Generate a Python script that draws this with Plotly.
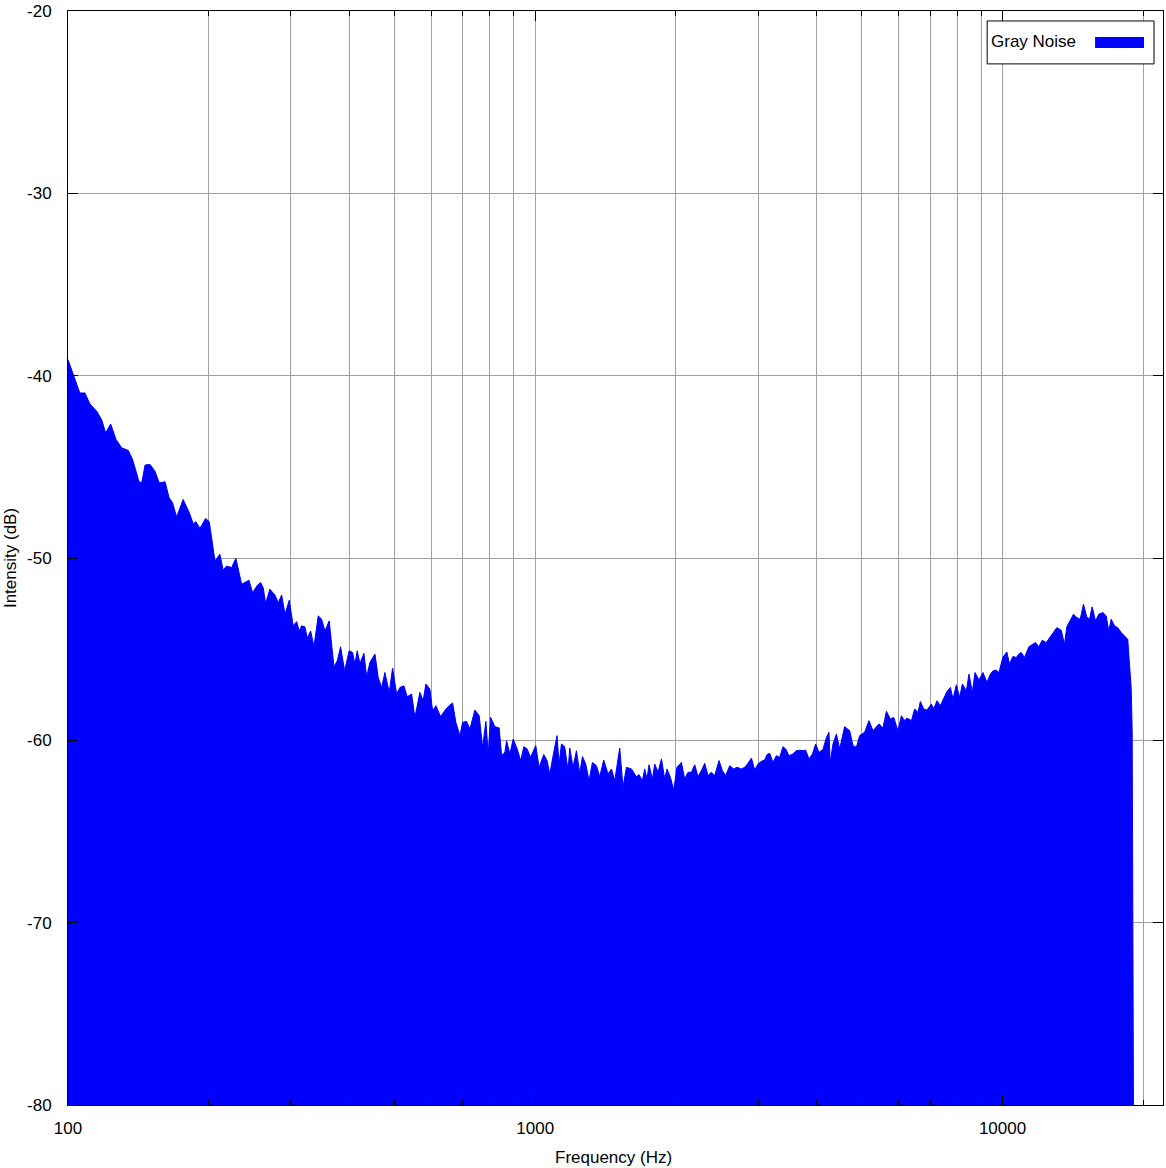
import math
import plotly.graph_objects as go

# Spectrum of gray noise
freq_hz = [
    100, 106.0, 108.7, 111.4, 115.2, 118.0, 120.4, 123.4, 126.7, 130.3,
    134.6, 137.5, 141.9, 143.8, 146.2, 149.8, 153.5, 156.8, 161.3, 164.6,
    167.4, 170.8, 176.4, 181.8, 185.4, 187.9, 191.6, 197.0, 200.6, 206.3,
    211.4, 214.8, 218.5, 223.9, 228.7, 235.3, 243.9, 248.4, 254.1, 258.4,
    261.7, 264.8, 270.4, 277.2, 281.8, 286.6, 291.3, 297.5, 303.4, 308.5,
    312.5, 316.2, 321.4, 325.2, 330.6, 336.0, 343.2, 349.0, 354.7, 362.3,
    370.8, 376.9, 383.2, 390.8, 399.7, 406.5, 411.1, 415.9, 421.4, 429.8,
    435.6, 442.7, 453.8, 461.2, 469.0, 476.7, 486.9, 495.1, 505.0, 513.2,
    523.4, 532.1, 543.7, 552.6, 566.4, 575.6, 583.3, 595.0, 603.0, 612.9,
    627.2, 643.8, 654.4, 665.4, 676.3, 689.8, 699.0, 712.9, 724.6, 742.7,
    758.6, 771.4, 784.1, 793.0, 802.4, 819.6, 837.1, 847.1, 861.0, 868.2,
    882.4, 897.0, 914.8, 930.3, 945.5, 960.5, 977.2, 1002.5, 1018.9, 1042.7,
    1059.9, 1074.0, 1095.3, 1113.3, 1124.4, 1137.7, 1156.1, 1175.3, 1185.2, 1204.6,
    1224.9, 1245.0, 1261.8, 1282.4, 1303.4, 1325.4, 1351.8, 1373.9, 1401.2, 1431.2,
    1455.6, 1479.3, 1516.1, 1541.0, 1567.0, 1606.4, 1646.1, 1667.2, 1695.5, 1714.6,
    1734.3, 1751.5, 1781.1, 1801.5, 1830.9, 1862.1, 1892.5, 1913.9, 1946.3, 1978.6,
    2010.5, 2054.6, 2088.4, 2122.6, 2158.8, 2194.0, 2229.8, 2267.8, 2304.8, 2342.4,
    2382.4, 2421.2, 2472.9, 2514.6, 2555.9, 2606.7, 2658.5, 2702.1, 2761.3, 2806.9,
    2852.7, 2901.4, 2948.6, 2996.8, 3047.9, 3097.6, 3132.6, 3174.6, 3226.7, 3281.1,
    3334.9, 3389.7, 3435.1, 3491.4, 3560.9, 3620.9, 3680.2, 3740.7, 3790.9, 3852.9,
    3917.9, 3982.3, 4047.5, 4128.1, 4197.6, 4251.9, 4277.3, 4336.7, 4409.7, 4482.0,
    4592.9, 4708.4, 4785.7, 4866.4, 4946.2, 5068.6, 5178.2, 5281.3, 5439.7, 5548.1,
    5641.5, 5753.7, 5849.6, 5973.6, 6075.5, 6174.5, 6244.3, 6382.3, 6486.3, 6592.2,
    6670.2, 6781.4, 6891.0, 7041.9, 7121.9, 7239.1, 7361.0, 7483.7, 7604.6, 7732.7,
    7833.0, 7964.9, 8095.6, 8204.8, 8367.2, 8475.3, 8618.4, 8729.8, 8903.4, 9080.7,
    9261.2, 9417.3, 9539.3, 9700.0, 9825.4, 10015, 10214, 10351, 10521, 10698,
    10836, 10965, 11144, 11383, 11572, 11765, 11958, 12160, 12401, 12604,
    12811, 13066, 13352, 13571, 13726, 13978, 14186, 14418, 14664, 14902,
    15146, 15350, 15554, 15810, 16070, 16389, 16665, 16880, 17081, 17360,
    17644, 17943, 18237, 18535, 18692, 18849, 18943, 18998, 19064,
]

level_db = [
    -39.12, -40.95, -40.95, -41.55, -41.95, -42.41, -43.14, -42.65, -43.50, -43.96,
    -44.10, -44.60, -45.82, -45.88, -44.90, -44.87, -45.24, -45.88, -45.82, -46.70,
    -46.97, -47.75, -46.79, -47.52, -48.12, -48.01, -48.38, -47.83, -48.01, -50.16,
    -49.80, -50.67, -50.44, -50.53, -50.02, -51.44, -51.22, -51.90, -51.50, -51.35,
    -51.63, -52.50, -51.71, -52.03, -52.45, -52.03, -53.08, -52.32, -53.72, -53.49,
    -54.00, -53.72, -53.78, -54.40, -54.00, -54.87, -53.17, -53.36, -54.00, -53.45,
    -55.97, -55.64, -54.87, -56.19, -55.09, -55.18, -55.82, -55.09, -55.78, -55.23,
    -56.51, -55.73, -55.27, -56.55, -57.10, -56.28, -57.37, -56.04, -57.46, -57.10,
    -57.01, -57.61, -57.46, -58.74, -57.37, -57.83, -56.91, -57.19, -58.38, -58.10,
    -58.70, -58.28, -58.10, -57.95, -59.02, -59.74, -59.02, -58.96, -59.38, -58.34,
    -58.65, -60.38, -58.96, -60.75, -58.74, -59.25, -59.32, -60.84, -60.66, -60.02,
    -60.75, -59.93, -60.47, -61.11, -60.35, -60.47, -60.93, -60.29, -61.48, -60.78,
    -61.11, -61.84, -60.66, -59.74, -61.30, -60.20, -60.35, -61.66, -60.42, -61.48,
    -60.57, -61.81, -60.89, -61.30, -62.21, -61.21, -61.39, -61.99, -61.08, -61.84,
    -61.57, -62.21, -60.42, -62.57, -61.48, -61.57, -62.00, -61.88, -62.21, -61.57,
    -62.12, -61.34, -62.12, -61.30, -61.75, -61.02, -62.12, -61.57, -62.03, -62.72,
    -61.48, -61.21, -62.12, -61.75, -61.75, -61.34, -61.99, -61.66, -61.26, -61.93,
    -61.75, -61.93, -61.11, -61.66, -61.93, -61.39, -61.57, -61.48, -61.57, -61.48,
    -61.26, -60.97, -61.63, -61.30, -61.15, -61.08, -60.78, -60.71, -61.21, -60.84,
    -60.93, -60.35, -60.47, -60.84, -60.75, -60.57, -60.54, -60.57, -60.54, -61.02,
    -60.75, -60.20, -60.66, -60.50, -59.84, -59.56, -61.21, -60.20, -59.65, -60.47,
    -59.25, -59.47, -60.29, -60.38, -59.74, -59.56, -58.92, -59.47, -59.10, -59.32,
    -58.41, -58.83, -58.74, -59.47, -58.65, -58.92, -58.78, -58.92, -58.28, -58.47,
    -57.87, -58.28, -58.34, -58.01, -58.28, -57.83, -58.10, -57.73, -57.32, -57.10,
    -57.73, -56.95, -57.64, -56.91, -57.28, -56.37, -57.37, -56.28, -56.69, -56.28,
    -56.82, -56.37, -56.19, -56.15, -56.28, -55.45, -55.15, -55.82, -55.40, -55.46,
    -55.27, -55.18, -55.46, -54.87, -54.73, -54.64, -54.87, -54.51, -54.64, -54.40,
    -54.14, -53.82, -53.96, -54.73, -53.78, -53.36, -53.08, -53.27, -53.36, -52.54,
    -53.23, -53.36, -52.68, -53.45, -53.08, -52.99, -53.17, -54.00, -53.36, -53.72,
    -53.82, -54.09, -54.27, -54.45, -55.82, -57.10, -59.47, -66.00, -80.00,
]

x_major = [100, 1000, 10000]
x_major_text = ["100", "1000", "10000"]
x_minor = [200, 300, 400, 500, 600, 700, 800, 900,
           2000, 3000, 4000, 5000, 6000, 7000, 8000, 9000, 20000]
y_ticks = [-80, -70, -60, -50, -40, -30, -20]
y_tick_text = ["-80", "-70", "-60", "-50", "-40", "-30", "-20"]
y_range = [-80, -20]
x_max_hz = 22050
series_name = "Gray Noise"

FONT = "Liberation Sans, Arial, sans-serif"
GRID = "#a0a0a0"
BLUE = "#0000ff"

FIG_W, FIG_H = 1166, 1168
L, T, R, B = 68, 9, 2, 63

fig = go.Figure()
fig.add_trace(go.Scatter(
    x=[freq_hz[0], freq_hz[-1]], y=[y_range[0], y_range[0]],
    mode="lines", line=dict(width=0, color=BLUE),
    showlegend=False, hoverinfo="skip"))
fig.add_trace(go.Scatter(
    x=freq_hz, y=level_db, mode="lines", fill="tonexty",
    fillcolor=BLUE, line=dict(color=BLUE, width=1),
    name=series_name, showlegend=False))

fig.update_layout(
    width=FIG_W, height=FIG_H,
    margin=dict(l=L, r=R, t=T, b=B, pad=0),
    paper_bgcolor="white", plot_bgcolor="white",
    font=dict(family=FONT, size=17, color="black"),
    showlegend=False,
)
fig.update_xaxes(
    type="log", range=[2, math.log10(x_max_hz)],
    tickmode="array", tickvals=x_major, ticktext=x_major_text,
    ticks="inside", ticklen=10, tickcolor="black", tickwidth=1,
    showline=True, linecolor="black", linewidth=1, mirror="ticks",
    showgrid=True, gridcolor=GRID, gridwidth=1, zeroline=False,
    tickfont=dict(family=FONT, size=17, color="black"),
    ticklabelstandoff=8, ticklabeloverflow="allow",
    minor=dict(tickvals=x_minor, ticks="inside", ticklen=5,
               tickcolor="black", showgrid=True, gridcolor=GRID, gridwidth=1),
)
fig.update_yaxes(
    range=y_range, tickmode="array",
    tickvals=y_ticks, ticktext=y_tick_text,
    ticks="inside", ticklen=10, tickcolor="black", tickwidth=1,
    showline=True, linecolor="black", linewidth=1, mirror="ticks",
    showgrid=True, gridcolor=GRID, gridwidth=1, zeroline=False,
    tickfont=dict(family=FONT, size=17, color="black"),
    ticklabelstandoff=12, ticklabeloverflow="allow",
)

W = 1096.0
def px_x(px):
    return (px - 68) / W
def px_y(py):
    return (1105 - py) / W

fig.add_annotation(text="Frequency (Hz)", xref="paper", yref="paper",
                   x=px_x(613.5), y=px_y(1158), xanchor="center", yanchor="middle",
                   showarrow=False, font=dict(family=FONT, size=17, color="black"))
fig.add_annotation(text="Intensity (dB)", xref="paper", yref="paper",
                   x=px_x(10), y=px_y(557), xanchor="center", yanchor="middle",
                   textangle=-90, showarrow=False,
                   font=dict(family=FONT, size=17, color="black"))

# legend box in the gnuplot style (label left, sample right)
fig.add_shape(type="rect", xref="paper", yref="paper",
              x0=px_x(988), x1=px_x(1155), y0=px_y(62), y1=px_y(19),
              line=dict(color="black", width=1), fillcolor="white", layer="above")
fig.add_shape(type="rect", xref="paper", yref="paper",
              x0=px_x(1096), x1=px_x(1145), y0=px_y(46), y1=px_y(35),
              line=dict(color=BLUE, width=0), fillcolor=BLUE, layer="above")
fig.add_annotation(text=series_name, xref="paper", yref="paper",
                   x=px_x(990), y=px_y(40), xanchor="left", yanchor="middle",
                   showarrow=False, font=dict(family=FONT, size=17, color="black"))

fig.write_html(
    "out.html",
    config={"displayModeBar": False, "staticPlot": True},
    post_script="document.body.style.margin='0';document.body.style.overflow='hidden';",
)
